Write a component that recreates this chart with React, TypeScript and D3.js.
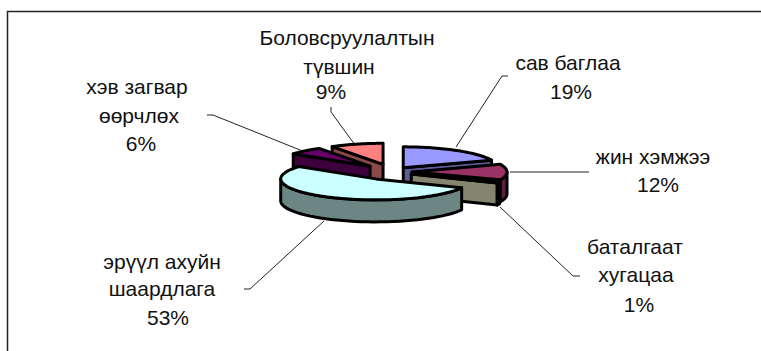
import * as d3 from "d3";
import React from "react";

// slices, clockwise from 12 o'clock
const categories = ["сав баглаа", "жин хэмжээ", "баталгаат хугацаа", "эрүүл ахуйн шаардлага", "хэв загвар өөрчлөх", "Боловсруулалтын түвшин"];
const shares = [19, 12, 1, 53, 6, 9];
const explode = [20, 20, 21, 32, 32, 32];
const topColors = ["#9999ff", "#993366", "#ffffcc", "#ccffff", "#660066", "#ff8080"];
const wallColors = ["#5b5b99", "#5c1f3d", "#85856f", "#6b8683", "#3d003d", "#8a4848"];
const drawOrder = [0, 5, 4, 1, 2, 3];

// text, centre x, centre y of every label line
const labelLines: [string, number, number][] = [
    ["сав баглаа", 568, 63], ["19%", 571, 92],
    ["жин хэмжээ", 653, 157], ["12%", 658, 185],
    ["баталгаат", 635, 247], ["хугацаа", 636, 275], ["1%", 639, 305],
    ["эрүүл ахуйн", 162, 262], ["шаардлага", 162, 289], ["53%", 168, 318],
    ["хэв загвар", 137, 87], ["өөрчлөх", 139, 116], ["6%", 141, 144],
    ["Боловсруулалтын", 347, 38], ["түвшин", 339, 67], ["9%", 331, 92],
];
const leaders = [
    [[456, 147], [502, 76], [508, 76]],
    [[510, 172], [589, 172]],
    [[500, 207], [573, 276], [580, 276]],
    [[324, 221], [250, 289], [244, 289]],
    [[207, 115], [213, 115], [305, 152]],
    [[331, 107], [331, 112], [355, 145]],
];

const width = 761;
const height = 351;
const cx = 392;
const cy = 172;
const rx = 95;
const ry = 21;
const depth = 22;
const squash = 0.25;

const line = d3.line<number[]>().x(d => d[0]).y(d => d[1]);

const App = () => {
    const pie = d3.pie<number>().sort(null).startAngle(0).endAngle(2 * Math.PI);
    const arcs = pie(shares);

    const slices = arcs.map((a, i) => {
        const mid = (a.startAngle + a.endAngle) / 2;
        const ax = cx + explode[i] * Math.sin(mid);
        const ay = cy - explode[i] * squash * Math.cos(mid);
        const pt = (t: number, dy = 0) => [ax + rx * Math.sin(t), ay - ry * Math.cos(t) + dy];
        const sweep = (from: number, to: number, dy = 0) =>
            d3.range(0, 41).map(k => pt(from + ((to - from) * k) / 40, dy));

        const faces: string[] = [];
        // cut faces, only those turned towards the viewer
        if (Math.sin(a.startAngle) < 0) {
            const e = pt(a.startAngle);
            faces.push(line([[ax, ay], e, [e[0], e[1] + depth], [ax, ay + depth]]) + "Z");
        }
        if (Math.sin(a.endAngle) > 0) {
            const e = pt(a.endAngle);
            faces.push(line([[ax, ay], e, [e[0], e[1] + depth], [ax, ay + depth]]) + "Z");
        }
        // outer wall between 90 and 270 degrees
        const from = Math.max(a.startAngle, Math.PI / 2);
        const to = Math.min(a.endAngle, 1.5 * Math.PI);
        if (to > from) {
            faces.push(line([...sweep(from, to), ...sweep(to, from, depth)]) + "Z");
        }
        const top = line([[ax, ay], ...sweep(a.startAngle, a.endAngle)]) + "Z";
        return { faces, top };
    });

    return (
        <svg width={width} height={height} style={{ position: "absolute", left: 0, top: 0 }}>
            {/* the frame is cut off on the right and at the bottom */}
            <path d={`M7.5,${height}V11.5H${width}`} fill="none" stroke="#222" strokeWidth={1.5} />
            {leaders.map((l, i) => (
                <path key={i} d={line(l) ?? ""} fill="none" stroke="#222" strokeWidth={1} />
            ))}
            {drawOrder.map(i => (
                <g key={categories[i]} stroke="#000" strokeWidth={3} strokeLinejoin="round">
                    {slices[i].faces.map((d, j) => (
                        <path key={j} d={d} fill={wallColors[i]} />
                    ))}
                    <path d={slices[i].top} fill={topColors[i]} />
                </g>
            ))}
            {labelLines.map(([t, x, y], i) => (
                <text key={i} x={x} y={y} dy="0.35em" textAnchor="middle" fontFamily="Liberation Sans, Arial, sans-serif" fontSize={21} fill="#111">
                    {t}
                </text>
            ))}
        </svg>
    );
};

export default App;
